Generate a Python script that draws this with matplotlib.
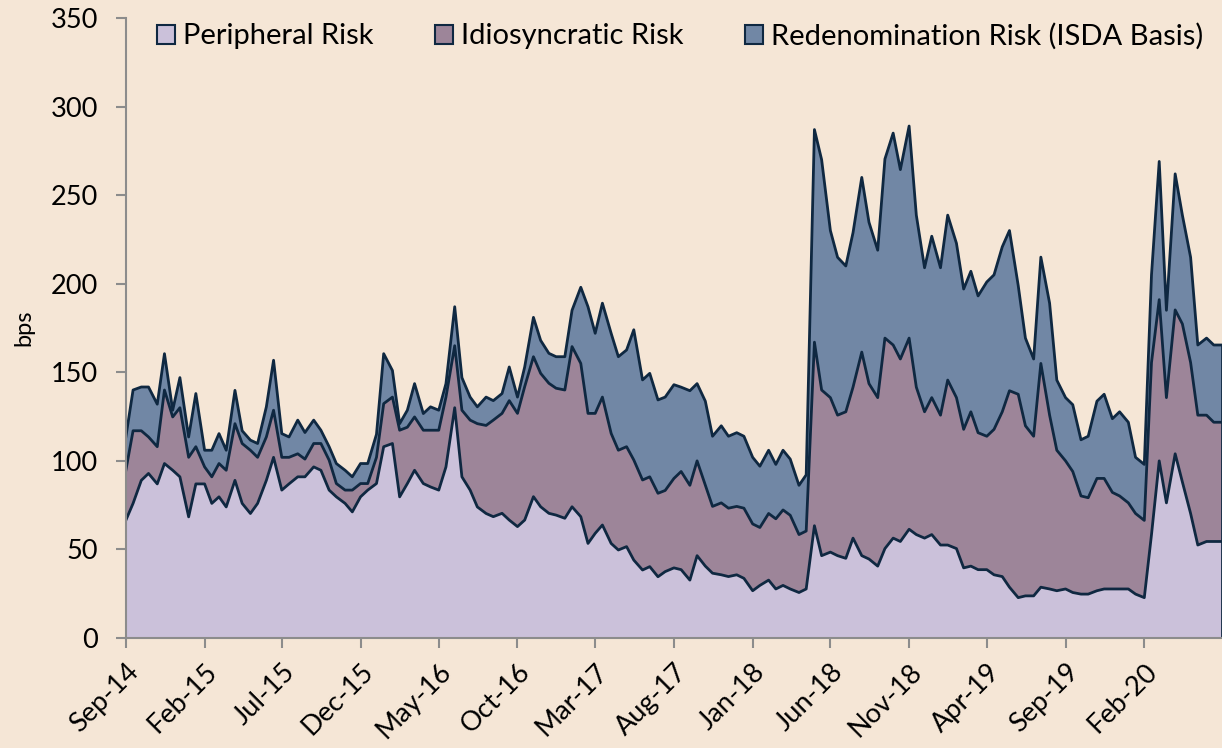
import numpy as np
import pandas as pd
import matplotlib
matplotlib.use("Agg")
from matplotlib import pyplot as plt
import matplotlib.dates as mdates
from matplotlib.patches import Patch

# semi-monthly observations, Sep-14 .. Jun-20
dates = pd.date_range("2014-09-01", periods=141, freq="SMS")

# level of each boundary in bps
peripheral = [
    66.5, 76, 89, 92.9, 87, 98.5, 94.7, 91, 68.4, 87,
    87, 76, 79.7, 74, 89, 76, 70.3, 76, 89, 102,
    83.5, 87, 91, 91, 96.6, 94.7, 83.5, 79.7, 76, 71.2,
    79.7, 83.5, 87.2, 108, 109.8, 79.7, 87.2, 94.7, 87.2, 85.3,
    83.5, 96.6, 130, 91, 83.5, 74, 70.3, 68.5, 70.4, 66.6,
    62.9, 66.6, 79.8, 74.1, 70.4, 69.4, 67.6, 74.1, 68.5, 53.4,
    59.1, 63.8, 53.4, 49.7, 51.6, 44, 38.4, 40.3, 34.6, 37.5,
    39.6, 38.6, 32.7, 46.5, 40.6, 36.6, 35.7, 34.7, 35.7, 33.7,
    26.7, 29.7, 32.7, 27.7, 29.7, 27.7, 25.7, 27.7, 63.4, 46.5,
    48.5, 46.5, 45, 56.4, 46.5, 44.6, 40.6, 50.5, 56.4, 54.5,
    61.4, 58.4, 56.4, 58.4, 52.5, 52.5, 50.5, 39.6, 40.6, 38.6,
    38.6, 35.7, 34.7, 28.7, 22.8, 23.8, 23.8, 28.7, 27.7, 26.7,
    27.7, 25.7, 24.8, 24.8, 26.7, 27.7, 27.7, 27.7, 27.7, 24.8,
    22.8, 58.4, 100, 76.3, 104, 88.1, 70.3, 52.5, 54.5, 54.5,
    54.5,
]
periph_idio = [
    94.7, 117, 117, 113.5, 108, 140, 124.8, 130, 102, 108,
    96.6, 91, 98.5, 94.7, 121, 109.8, 106, 102, 113.5, 128.6,
    102, 102, 104, 101, 109.8, 109.8, 100.4, 87.2, 83.5, 83.5,
    87.2, 87.2, 102, 132.3, 136, 117.3, 119, 124.8, 117.3, 117.3,
    117.3, 136, 165, 128.6, 123, 121, 120, 123, 126.8, 134,
    126.8, 141.9, 158.8, 149.4, 143.8, 141, 140, 164.5, 155, 126.8,
    126.8, 136, 115.5, 106, 108, 100.5, 89.2, 91, 81.7, 83.3,
    90.1, 94, 86.2, 100, 86.2, 74.3, 76.3, 73.3, 74.3, 73.3,
    64.4, 62.4, 70.3, 67.3, 72.3, 69.3, 58.4, 60.4, 167, 140,
    135.7, 125.8, 127.7, 141.6, 161.4, 143.6, 135.7, 169.3, 165.4, 157.5,
    169.3, 141.6, 127.7, 135.7, 125.8, 145.6, 135.7, 117.8, 127.7, 115.9,
    113.9, 117.8, 127.7, 139.6, 137.6, 119.8, 113.9, 155, 125.8, 106,
    100, 94, 80.2, 79.2, 90.1, 90.1, 82.2, 80.2, 76.3, 70.3,
    66.4, 155.5, 191, 135.7, 185.2, 177.3, 155.5, 125.8, 125.8, 121.8,
    121.8,
]
total = [
    113.5, 140, 141.7, 141.7, 132, 160.5, 128.6, 147, 113.5, 138,
    106, 106, 115.4, 106, 139.8, 117, 111.7, 109.8, 130.5, 156.8,
    115.4, 113.5, 123, 116, 123, 117.3, 108, 98.5, 94.7, 91,
    98.5, 98.5, 115, 160.5, 151, 121, 128.6, 143.6, 126.7, 130.5,
    128.6, 143.6, 187, 147, 136, 130.5, 136, 134, 138, 153,
    136, 153, 181, 168, 160.7, 158.8, 158.8, 185, 198, 187,
    172, 189, 172, 158.8, 162.6, 174, 145.7, 149.4, 134.4, 136,
    143, 141.6, 139.6, 143.6, 133.7, 113.9, 119.8, 113.9, 115.9, 113.9,
    102, 97, 106, 98, 106, 101, 86.2, 92.1, 287, 270,
    230, 214.9, 210, 228.8, 260, 234.7, 218.9, 270.4, 285, 264.4,
    289, 238.7, 209, 226.8, 209, 238.7, 222.8, 197, 207, 193.1,
    201, 205, 220.8, 230, 199, 169.3, 157.5, 215, 189, 145.6,
    135.7, 131.7, 111.9, 113.9, 133.7, 137.6, 123.8, 127.7, 121.8, 102,
    98, 205, 269, 185, 262, 238.7, 214.9, 165.4, 169.3, 165.4,
    165.4,
]

labels = ["Peripheral Risk", "Idiosyncratic Risk", "Redenomination Risk (ISDA Basis)"]
colors = ["#CBC1DA", "#9D8599", "#7187A5"]
line_col = "#0F2841"
bg = "#F5E6D6"

peripheral = np.array(peripheral)
periph_idio = np.array(periph_idio)
total = np.array(total)
idio = periph_idio - peripheral
redenom = total - periph_idio

plt.rcParams["font.family"] = ["Lato", "DejaVu Sans"]

fig = plt.figure(figsize=(12.22, 7.48), dpi=100, facecolor=bg)
ax = fig.add_axes([0.103, 0.147, 0.897, 0.829], facecolor=bg)

ax.stackplot(dates, peripheral, idio, redenom, colors=colors, linewidth=0)
for lvl in (peripheral, periph_idio, total):
    ax.plot(dates, lvl, color=line_col, lw=2, solid_joinstyle="round")
ax.vlines(dates[-1], 0, total[-1], color=line_col, lw=2)

ax.set_xlim(dates[0], dates[-1])
ax.set_ylim(0, 350)
ax.set_yticks(np.arange(0, 351, 50))
ax.set_xticks(pd.date_range("2014-09-01", "2020-02-01", freq="5MS"))
ax.xaxis.set_major_formatter(mdates.DateFormatter("%b-%y"))

for s in ("top", "right"):
    ax.spines[s].set_visible(False)
for s in ("left", "bottom"):
    ax.spines[s].set_color("#8C8C8C")
    ax.spines[s].set_linewidth(1.5)
    ax.spines[s].set_zorder(5)
ax.tick_params(axis="both", colors="#8C8C8C", length=7, width=1.5,
               labelsize=19.5, labelcolor="black")
ax.tick_params(axis="y", pad=13)
ax.tick_params(axis="x", pad=8)
plt.setp(ax.get_xticklabels(), rotation=45, ha="right", rotation_mode="anchor")
ax.set_ylabel("bps", fontsize=17, labelpad=12)

handles = [Patch(facecolor=c, edgecolor=line_col, lw=1.5) for c in colors]
ax.legend(handles, labels, ncol=3, loc="upper left", bbox_to_anchor=(0.004, 1.035),
          frameon=False, fontsize=21, handlelength=0.62, handleheight=0.62,
          handletextpad=0.3, columnspacing=2.08)

fig.savefig("out.png", dpi=100, facecolor=bg)
